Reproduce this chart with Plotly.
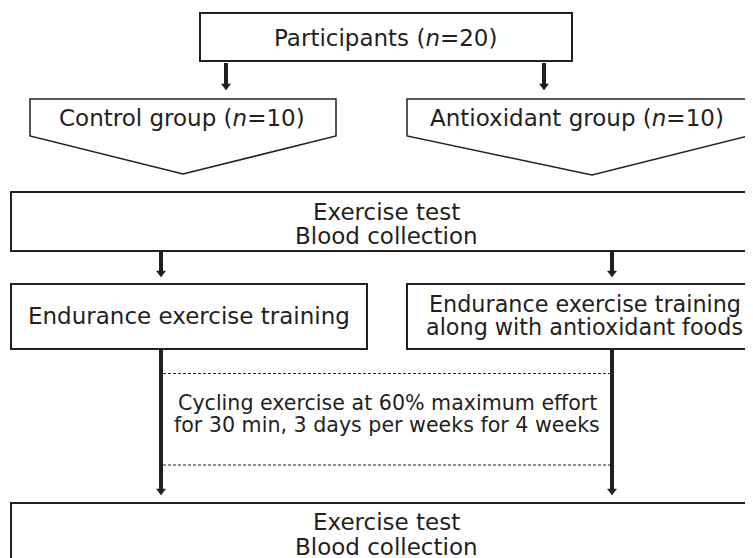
import plotly.graph_objects as go

# ---- content (labels) ----
top_label = "Participants (<i>n</i>=20)"
group_labels = ["Control group (<i>n</i>=10)", "Antioxidant group (<i>n</i>=10)"]
test_lines = ["Exercise test", "Blood collection"]
training_left = ["Endurance exercise training"]
training_right = ["Endurance exercise training", "along with antioxidant foods"]
protocol_lines = ["Cycling exercise at 60% maximum effort",
                  "for 30 min, 3 days per weeks for 4 weeks"]

# ---- geometry / style ----
W, H = 753, 558
OFF = 8  # page body margin in the browser
INK = "#231f20"
FONT = "DejaVu Sans"

fig = go.Figure()
fig.add_trace(go.Scatter(x=[OFF, W + OFF], y=[OFF, H + OFF], mode="markers",
                         marker=dict(opacity=0), hoverinfo="skip", showlegend=False))

shapes = []
annotations = []


def rect(x0, y0, x1, y1, lw=2):
    shapes.append(dict(type="rect", x0=x0, x1=x1, y0=y0, y1=y1, xref="x", yref="y",
                       line=dict(color=INK, width=lw), fillcolor="rgba(0,0,0,0)"))


def pent(x0, x1, ytop, yside, xtip, ytip, lw=1.5):
    path = f"M{x0},{ytop} L{x1},{ytop} L{x1},{yside} L{xtip},{ytip} L{x0},{yside} Z"
    shapes.append(dict(type="path", path=path, xref="x", yref="y",
                       line=dict(color=INK, width=lw), fillcolor="rgba(0,0,0,0)"))


def arrow(x, y0, ytip, lw=4):
    head = 6
    shapes.append(dict(type="line", x0=x, x1=x, y0=y0, y1=ytip - head + 1, xref="x", yref="y",
                       line=dict(color=INK, width=lw)))
    path = f"M{x-4.5},{ytip-head} L{x+4.5},{ytip-head} L{x},{ytip} Z"
    shapes.append(dict(type="path", path=path, xref="x", yref="y",
                       line=dict(color=INK, width=0.5), fillcolor=INK))


def dashed(x0, x1, y):
    shapes.append(dict(type="line", x0=x0, x1=x1, y0=y, y1=y, xref="x", yref="y",
                       line=dict(color=INK, width=1, dash="3px,2px")))


def text(x, y, s, size=23):
    annotations.append(dict(x=x, y=y, xref="x", yref="y", text=s, showarrow=False,
                            xanchor="center", yanchor="middle",
                            font=dict(family=FONT, size=size, color=INK)))


# Participants
rect(200, 13, 572, 61)
text(385, 38, top_label)
arrow(226, 63, 90)
arrow(544, 63, 90)

# Groups
pent(30, 336, 99, 136, 183, 174)
pent(407, 748, 99, 136, 592, 175)
text(182, 118, group_labels[0])
text(577, 118, group_labels[1])

# First test box
rect(11, 192, 758, 251)
for s, y in zip(test_lines, [212, 235.5]):
    text(386, y, s)
arrow(161, 251, 277)
arrow(612, 251, 277)

# Training boxes
rect(11, 284, 367, 349)
text(188.5, 316, training_left[0])
rect(407, 284, 762, 349)
for s, y in zip(training_right, [303.5, 327]):
    text(584.5, y, s, size=22.3)

# Long arrows and protocol
arrow(161, 349, 495)
arrow(612, 349, 495)
dashed(163, 610, 373.5)
dashed(163, 610, 465)
for s, y in zip(protocol_lines, [402.5, 425]):
    text(387, y, s, size=20.6)

# Final test box
rect(11, 503, 762, 620)
for s, y in zip(test_lines, [522, 547]):
    text(386, y, s)

fig.update_layout(
    width=W, height=H,
    margin=dict(l=0, r=0, t=0, b=0),
    paper_bgcolor="white", plot_bgcolor="white",
    xaxis=dict(range=[OFF, W + OFF], visible=False, fixedrange=True),
    yaxis=dict(range=[H + OFF, OFF], visible=False, fixedrange=True),
    shapes=shapes, annotations=annotations, showlegend=False,
)

fig.write_html("out.html")
